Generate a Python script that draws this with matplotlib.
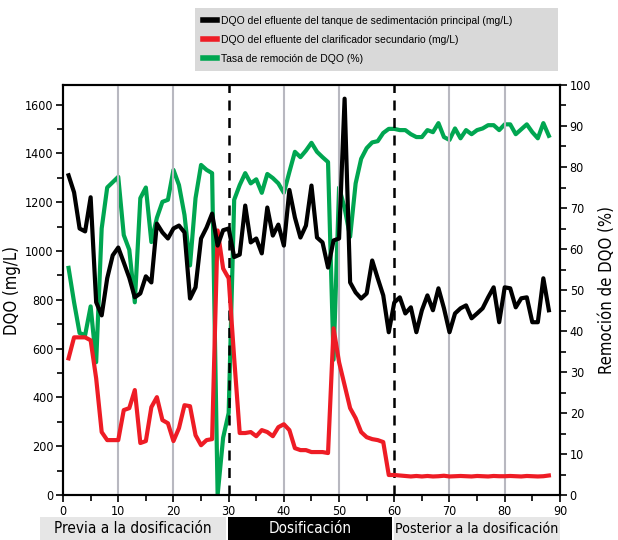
import numpy as np
import matplotlib
matplotlib.use("Agg")
from matplotlib import pyplot as plt
from matplotlib.patches import Rectangle

# days of the campaign
dias = list(range(1, 89))

# DQO of the primary sedimentation tank effluent (mg/L)
dqo_primario = [1310, 1240, 1092, 1080, 1220, 790, 736, 888, 982, 1014,
                953, 890, 810, 826, 896, 871, 1112, 1076, 1051, 1092,
                1104, 1076, 805, 851, 1051, 1096, 1153, 1022, 1085, 1092,
                975, 985, 1186, 1035, 1051, 990, 1178, 1063, 1108, 1022,
                1250, 1137, 1055, 1104, 1268, 1055, 1035, 932, 1043, 1051,
                1624, 871, 830, 805, 826, 961, 888, 818, 667, 789,
                810, 744, 769, 667, 757, 818, 757, 847, 765, 667,
                744, 765, 777, 724, 744, 765, 810, 851, 708, 851,
                847, 769, 806, 810, 708, 708, 888, 757]

# DQO of the secondary clarifier effluent (mg/L)
dqo_secundario = [560, 646, 646, 646, 634, 478, 258, 225, 225, 225,
                  348, 356, 430, 213, 221, 360, 401, 307, 294, 221,
                  274, 368, 364, 245, 204, 225, 229, 1084, 928, 888,
                  560, 254, 254, 258, 241, 266, 258, 241, 278, 290,
                  266, 192, 184, 184, 176, 176, 176, 172, 683, 544,
                  450, 356, 315, 258, 237, 229, 225, 217, 82, 82,
                  80, 78, 76, 78, 76, 78, 76, 77, 79, 76,
                  77, 78, 77, 76, 78, 77, 76, 78, 77, 77,
                  78, 77, 76, 78, 77, 76, 77, 80]

# DQO removal rate (%)
remocion = [55.4, 47, 39.5, 39, 46, 32.4, 65, 75, 76.3, 77.6,
            63.4, 59.8, 47, 72.4, 75, 61.7, 67.6, 71.5, 72, 79.3,
            75.6, 68.3, 56, 72.4, 80.5, 79.3, 78.5, 0, 14, 20,
            72, 75.6, 78.5, 76, 77, 73.7, 78.3, 77.3, 76, 73.7,
            78.8, 83.7, 82.4, 84, 85.9, 83.7, 82.4, 81.2, 33, 75,
            70, 63, 76, 82, 84.6, 86, 86.3, 88.3, 89.3, 89.3,
            89, 89, 88, 87.3, 87.3, 89, 88.5, 90.7, 87.3, 86.6,
            89.4, 87, 89, 88, 89, 89.4, 90.2, 90.2, 89, 90.4,
            90.4, 88, 89.2, 90.4, 88.5, 87, 90.7, 87.6]

etiquetas = ["DQO del efluente del tanque de sedimentación principal (mg/L)",
             "DQO del efluente del clarificador secundario (mg/L)",
             "Tasa de remoción de DQO (%)"]
fases = ["Previa a la dosificación", "Dosificación", "Posterior a la dosificación"]
limites_fase = [30, 60]

# condensed face if one is installed, plain DejaVu otherwise
NARROW = ["DejaVu Sans Condensed", "Liberation Sans Narrow", "DejaVu Sans"]
plt.rcParams['font.family'] = ["Liberation Sans", "DejaVu Sans"]

fig = plt.figure(figsize=(6.18, 5.40), dpi=100)
ax = fig.add_axes([0.102, 0.0833, 0.804, 0.7593])
ax2 = ax.twinx()

# vertical grid and phase separators
for xv in [10, 20, 40, 50, 70, 80]:
    ax.axvline(xv, color='#b8b8c0', lw=1.5, zorder=0)
for xv in limites_fase:
    ax.axvline(xv, color='black', lw=1.8, ls=(0, (4, 3)), zorder=1)

l1, = ax.plot(dias, dqo_primario, color='black', lw=3, zorder=4)
l2, = ax.plot(dias, dqo_secundario, color='#ee1c25', lw=3, zorder=3)
l3, = ax2.plot(dias, remocion, color='#00a651', lw=3, zorder=2)

# green drawn behind the left-axis lines like the original
ax.set_zorder(ax2.get_zorder() + 1)
ax.patch.set_visible(False)

ax.set_xlim(0, 90)
ax.set_ylim(0, 1680)
ax2.set_ylim(0, 100)
ax.set_xticks(range(0, 91, 10))
ax.set_xticks(range(0, 91, 5), minor=True)
ax.set_yticks(range(0, 1601, 200))
ax.set_yticks(range(0, 1601, 100), minor=True)
ax2.set_yticks(range(0, 101, 10))
ax2.set_yticks(range(0, 101, 5), minor=True)

for a in (ax, ax2):
    a.tick_params(which='both', direction='out', width=1.2, pad=2)
    a.tick_params(which='major', length=5)
    a.tick_params(which='minor', length=4)
    for s in a.spines.values():
        s.set_linewidth(1.5)
for lab in ax.get_xticklabels() + ax.get_yticklabels() + ax2.get_yticklabels():
    lab.set_family(NARROW)
    lab.set_stretch('condensed')
    lab.set_fontsize(9)

ax.set_ylabel("DQO (mg/L)", family=NARROW, stretch='condensed', fontsize=12, labelpad=3)
ax2.set_ylabel("Remoción de DQO (%)", family=NARROW, stretch='condensed',
               fontsize=12, labelpad=5)

leg = fig.legend([l1, l2, l3], etiquetas, loc='upper left',
                 bbox_to_anchor=(0.316, 0.870, 0.587, 0.115), mode='expand',
                 fontsize=7.5, handlelength=1.3, handletextpad=0.4,
                 labelspacing=0.85, borderaxespad=0, fancybox=False,
                 frameon=True, borderpad=0.75)
leg.get_frame().set_facecolor('#d9d9d9')
leg.get_frame().set_edgecolor('none')
leg.get_frame().set_alpha(1)
for h in leg.get_lines():
    h.set_linewidth(4)

# phase bands under the x axis
cajas = [(0.065, 0.366), (0.369, 0.634), (0.638, 0.906)]
fondos = ['#e6e6e6', 'black', '#e6e6e6']
tintas = ['black', 'white', 'black']
tamanos = [11, 11, 10.2]
for (x0, x1), fondo, tinta, texto, tam in zip(cajas, fondos, tintas, fases, tamanos):
    fig.patches.append(Rectangle((x0, 0.0), x1 - x0, 0.043, transform=fig.transFigure,
                                 facecolor=fondo, edgecolor='none'))
    fig.text((x0 + x1) / 2, 0.021, texto, ha='center', va='center', color=tinta,
             family=NARROW, stretch='condensed', fontsize=tam)

fig.savefig("out.png", dpi=100)
